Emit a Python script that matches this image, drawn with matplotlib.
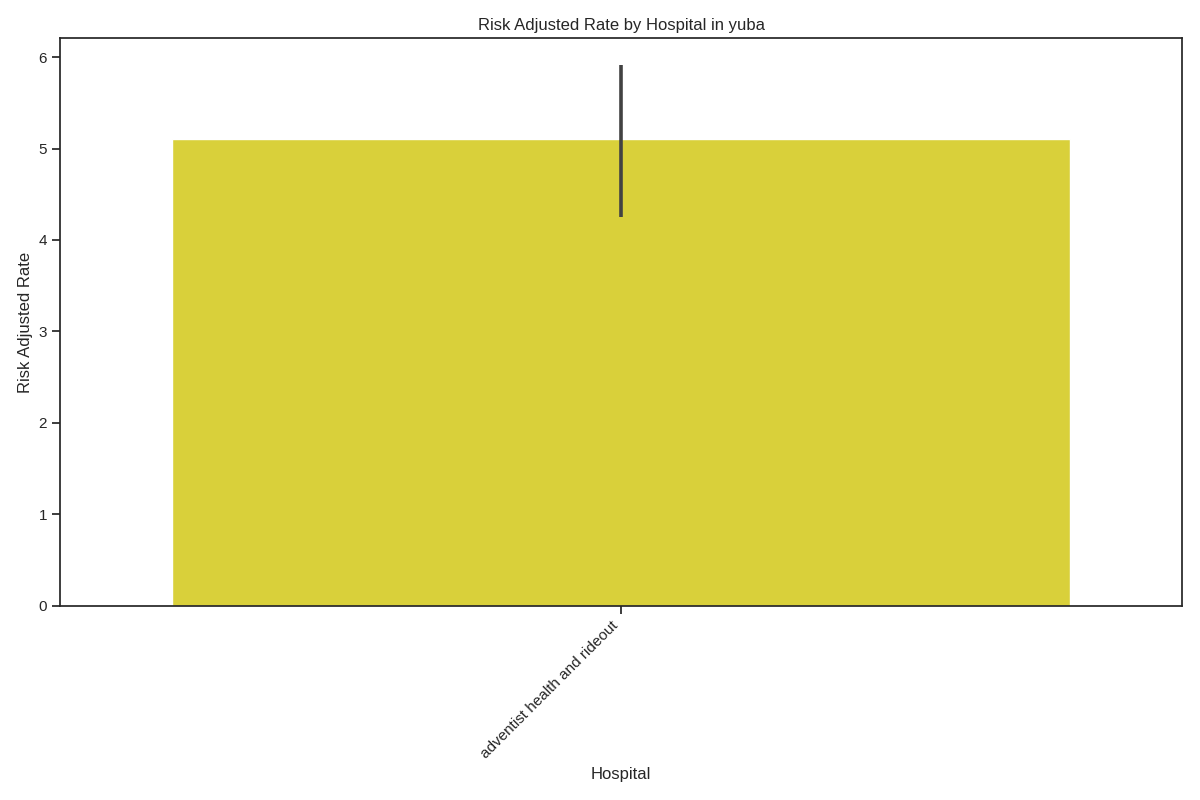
import matplotlib
matplotlib.use("Agg")
import matplotlib.pyplot as plt
import seaborn as sns

hospitals = ["adventist health and rideout"]
mean_rate = [5.1]
ci_low = [4.25]
ci_high = [5.91]

sns.set_theme(style="ticks")
plt.rcParams["font.family"] = ["Liberation Sans", "DejaVu Sans"]

fig, ax = plt.subplots(figsize=(12, 8), dpi=100)
x = list(range(len(hospitals)))
ax.bar(x, mean_rate, width=0.8, color="#d9d03a")
ax.vlines(x, ci_low, ci_high, color="#424242", linewidth=2.6)
ax.set_xlim(-0.5, len(hospitals) - 0.5)
ax.set_ylim(0, max(ci_high) * 1.05)
ax.set_xticks(x)
ax.set_xticklabels(hospitals, rotation=45, ha="right")
ax.set_xlabel("Hospital")
ax.set_ylabel("Risk Adjusted Rate")
ax.set_title("Risk Adjusted Rate by Hospital in yuba")
fig.tight_layout()
fig.savefig("out.png", dpi=100)
